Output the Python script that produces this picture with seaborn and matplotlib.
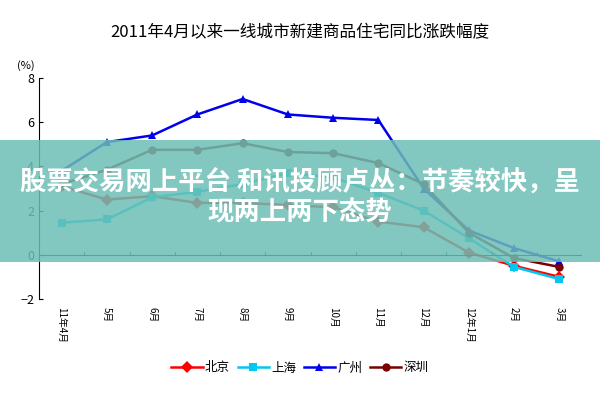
import numpy as np
import pandas as pd
import seaborn as sns
import matplotlib.pyplot as plt
from matplotlib.patches import Rectangle

plt.rcParams['font.family'] = ['Noto Sans CJK SC', 'DejaVu Sans']

months = ['11年4月', '5月', '6月', '7月', '8月', '9月', '10月', '11月', '12月', '12年1月', '2月', '3月']
beijing = [3.1, 2.5, 2.65, 2.35, 2.35, 2.25, 2.15, 1.5, 1.25, 0.1, -0.5, -1.0]
shanghai = [1.45, 1.6, 2.6, 2.85, 3.2, 3.7, 3.5, 2.8, 2.0, 0.75, -0.55, -1.1]
guangzhou = [3.8, 5.1, 5.4, 6.35, 7.05, 6.35, 6.2, 6.1, 3.0, 1.1, 0.3, -0.3]
shenzhen = [3.2, 3.85, 4.75, 4.75, 5.05, 4.65, 4.6, 4.15, 3.2, 1.0, -0.15, -0.55]

df = pd.DataFrame({'月': list(range(len(months))) * 4,
                   '涨跌': beijing + shanghai + guangzhou + shenzhen,
                   '城市': ['北京'] * 12 + ['上海'] * 12 + ['广州'] * 12 + ['深圳'] * 12})

palette = {'北京': '#ff0000', '上海': '#00c8f0', '广州': '#0000ee', '深圳': '#7a0000'}
markers = {'北京': 'D', '上海': 's', '广州': '^', '深圳': 'o'}

fig = plt.figure(figsize=(6, 4), dpi=100)
ax = fig.add_axes([0.065, 0.2525, 0.905, 0.5525])
sns.lineplot(data=df, x='月', y='涨跌', hue='城市', style='城市', palette=palette,
             markers=markers, dashes=False, markersize=6, linewidth=1.8,
             markeredgewidth=0, ax=ax)

ax.set_xlim(-0.5, 11.5)
ax.set_ylim(-2, 8)
ax.set_yticks([-2, 0, 2, 4, 6, 8])
ax.set_xticks(range(len(months)))
ax.set_xticklabels(months, rotation=270, fontsize=7)
ax.tick_params(axis='x', length=0, pad=6)
ax.tick_params(axis='y', labelsize=9, length=3, direction='in')
ax.axhline(0, color='black', lw=0.8)
for b in np.arange(0.5, 11.5, 1):
    ax.plot([b, b], [0, 0.12], color='black', lw=0.6)
for s in ['top', 'right', 'bottom']:
    ax.spines[s].set_visible(False)
ax.set_xlabel('')
ax.set_ylabel('')
ax.text(-0.04, 1.04, '(%)', transform=ax.transAxes, fontsize=8)

fig.suptitle('2011年4月以来一线城市新建商品住宅同比涨跌幅度', y=0.94, fontsize=12)
handles, labels = ax.get_legend_handles_labels()
ax.get_legend().remove()
fig.legend(handles, labels, loc='center', bbox_to_anchor=(0.5, 0.08), ncol=4, frameon=False,
           fontsize=9, handlelength=2.5, columnspacing=0.6, handletextpad=0.2)

fig.patches.append(Rectangle((0, 0.345), 1, 0.305, transform=fig.transFigure,
                             facecolor='#6cbfb5', alpha=0.85, zorder=10))
fig.text(0.5, 0.505, '股票交易网上平台 和讯投顾卢丛：节奏较快，呈\n现两上两下态势', ha='center',
         va='center', fontsize=19, fontweight='bold', color='white', zorder=11,
         linespacing=1.1)

fig.savefig('out.png', dpi=100)
